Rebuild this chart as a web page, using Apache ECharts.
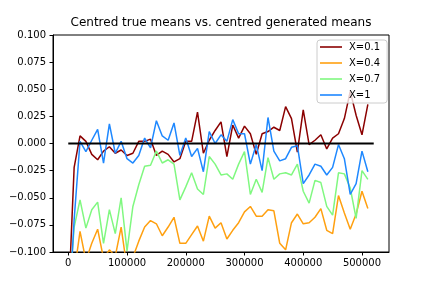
<!DOCTYPE html>
<html>
<head>
<meta charset="utf-8">
<script src="https://cdn.jsdelivr.net/npm/echarts@6/dist/echarts.min.js"></script>
<style>html,body{margin:0;padding:0;background:#fff}#c{width:432px;height:288px}</style>
</head>
<body>
<div id="c"></div>
<script>
var xs = [0,10000,20000,30000,40000,50000,60000,70000,80000,90000,
  100000,110000,120000,130000,140000,150000,160000,170000,180000,190000,
  200000,210000,220000,230000,240000,250000,260000,270000,280000,290000,
  300000,310000,320000,330000,340000,350000,360000,370000,380000,390000,
  400000,410000,420000,430000,440000,450000,460000,470000,480000,490000,
  500000,510000];
var x01 = [-0.15,-0.022,0.007,0.002,-0.010,-0.015,-0.007,-0.003,-0.009,-0.006,
  -0.011,-0.009,0.002,0.002,0.004,-0.011,-0.007,-0.010,-0.017,-0.014,
  0.002,0.002,0.029,-0.009,0.003,0.012,0.020,-0.012,0.017,0.005,
  0.016,0.009,-0.010,0.009,0.011,0.015,0.012,0.034,0.023,-0.008,
  0.031,-0.001,0.003,0.008,-0.005,0.005,0.009,0.023,0.048,0.026,
  0.008,0.036];
var x04 = [-0.25,-0.12,-0.081,-0.108,-0.092,-0.079,-0.106,-0.098,-0.104,-0.077,
  -0.115,-0.105,-0.090,-0.077,-0.071,-0.074,-0.085,-0.077,-0.068,-0.092,
  -0.092,-0.084,-0.076,-0.090,-0.067,-0.078,-0.073,-0.088,-0.080,-0.073,
  -0.063,-0.058,-0.067,-0.067,-0.061,-0.062,-0.092,-0.098,-0.073,-0.065,
  -0.074,-0.073,-0.068,-0.060,-0.080,-0.083,-0.048,-0.064,-0.079,-0.065,
  -0.044,-0.060];
var x07 = [-0.15,-0.077,-0.052,-0.078,-0.061,-0.054,-0.092,-0.061,-0.083,-0.050,
  -0.099,-0.058,-0.038,-0.021,-0.020,-0.007,-0.018,-0.015,-0.019,-0.052,
  -0.040,-0.027,-0.042,-0.047,-0.012,-0.019,-0.029,-0.028,-0.033,-0.019,
  -0.0075,-0.047,-0.033,-0.045,-0.013,-0.033,-0.028,-0.027,-0.029,-0.019,
  -0.044,-0.055,-0.034,-0.036,-0.058,-0.066,-0.027,-0.028,-0.041,-0.069,
  -0.025,-0.033];
var x1 = [-0.167,-0.07,0.002,-0.0075,0.003,0.013,-0.018,0.018,-0.009,0.002,
  -0.014,-0.018,-0.011,0.005,-0.004,0.021,0.007,0.003,0.019,-0.011,
  0.005,-0.012,-0.0045,-0.026,0.011,0.000,0.008,0.002,0.022,0.009,
  0.009,-0.019,-0.001,-0.025,0.024,-0.007,-0.016,-0.014,-0.0035,-0.002,
  -0.037,-0.029,-0.019,-0.021,-0.029,-0.022,-0.001,-0.014,-0.047,-0.037,
  -0.007,-0.026];
var zeroLineX = [0, 520000];
var zeroLineY = [0, 0];
var seriesNames = ['X=0.1','X=0.4','X=0.7','X=1'];
var seriesColors = ['#8b0000','#ffa010','#80f880','#1e88ff'];
var seriesValues = [x01, x04, x07, x1];
var xTicks = [0,100000,200000,300000,400000,500000];

var FONT = 'DejaVu Sans';
function pairs(xv, yv){ var o=[]; for(var i=0;i<yv.length;i++) o.push([xv[i], yv[i]]); return o; }

var series = seriesNames.map(function(n, k){
  return {
    name: n, type: 'line', data: pairs(xs, seriesValues[k]),
    symbol: 'none', showSymbol: false, clip: true,
    lineStyle: {color: seriesColors[k], width: 1.5},
    itemStyle: {color: seriesColors[k]},
    z: 2 + k
  };
});
series.push({
  name: 'zero', type: 'line', data: pairs(zeroLineX, zeroLineY),
  symbol: 'none', showSymbol: false,
  lineStyle: {color: '#000', width: 2}, z: 10, silent: true
});

var LINE_ICON = 'path://M0,0 L22,0 L22,1.6 L0,1.6 Z';

var chart = echarts.init(document.getElementById('c'), null, {renderer: 'canvas'});
chart.setOption({
  animation: false,
  backgroundColor: '#fff',
  title: {
    text: 'Centred true means vs. centred generated means',
    left: 221, top: 17, textAlign: 'center', padding: 0,
    textStyle: {fontFamily: FONT, fontSize: 12, fontWeight: 'normal', color: '#000'}
  },
  legend: {
    data: seriesNames.map(function(n, k){
      return {name: n, icon: LINE_ICON, itemStyle: {color: seriesColors[k], borderWidth: 0}};
    }),
    orient: 'vertical',
    left: 317, top: 40,
    padding: [2, 7, 3, 3],
    itemGap: 6,
    itemWidth: 22, itemHeight: 10,
    symbolKeepAspect: true,
    backgroundColor: 'rgba(255,255,255,0.8)',
    borderColor: '#cccccc', borderWidth: 1, borderRadius: 3,
    textStyle: {fontFamily: FONT, fontSize: 10, color: '#000', padding: [0,0,0,2]}
  },
  grid: {
    left: 53, right: 43, top: 35, bottom: 36,
    show: true, borderColor: '#000', borderWidth: 1, backgroundColor: 'transparent'
  },
  xAxis: {
    type: 'value', min: -26000, max: 546000,
    splitLine: {show: false},
    axisLine: {show: true, onZero: false, lineStyle: {color: '#000', width: 1}},
    axisTick: {show: true, length: 3.5, lineStyle: {color: '#000'}, customValues: xTicks},
    axisLabel: {fontFamily: FONT, fontSize: 10, color: '#000', margin: 6, customValues: xTicks,
      formatter: function(v){ return String(Math.round(v)); }}
  },
  yAxis: {
    type: 'value', min: -0.1, max: 0.1, interval: 0.025,
    splitLine: {show: false},
    axisLine: {show: true, onZero: false, lineStyle: {color: '#000', width: 1}},
    axisTick: {show: true, length: 3.5, lineStyle: {color: '#000'}},
    axisLabel: {fontFamily: FONT, fontSize: 10, color: '#000', margin: 7,
      formatter: function(v){ return v.toFixed(3).replace('-', '\u2212'); }}
  },
  series: series
});
</script>
</body>
</html>
